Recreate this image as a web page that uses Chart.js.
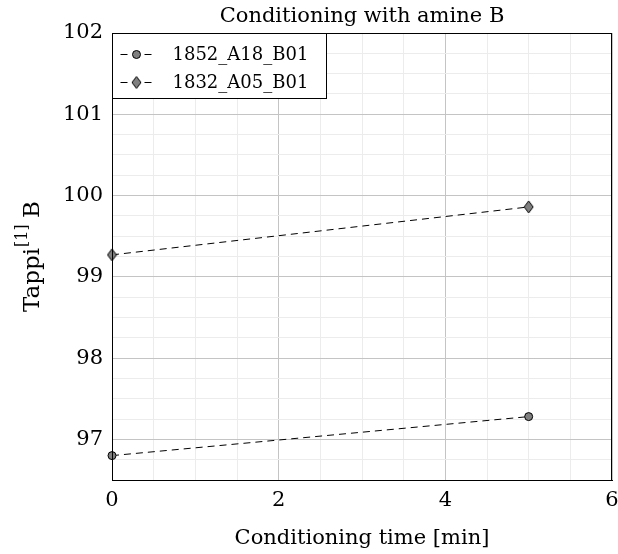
<!DOCTYPE html>
<html><head><meta charset="utf-8">
<script src="https://cdn.jsdelivr.net/npm/chart.js@4"></script>
<style>html,body{margin:0;padding:0;background:#fff}#c{display:block}</style>
</head><body>
<canvas id="c" width="618" height="554"></canvas>
<script>
const seriesNames = ["1852_A18_B01", "1832_A05_B01"];
const timeMin = [0, 5];
const tappiA18 = [96.80, 97.28];
const tappiA05 = [99.27, 99.86];
const yTickLabels = [97, 98, 99, 100, 101, 102];
const xTickLabels = [0, 2, 4, 6];
const titleText = "Conditioning with amine B";
const xTitle = "Conditioning time [min]";

const FONT = "'DejaVu Serif', serif";
const FS = 21;

const mk = (xs, ys) => xs.map((x, i) => ({x, y: ys[i]}));

// tall diamond marker
function diamond(w, h) {
  const c = document.createElement('canvas');
  c.width = w + 2; c.height = h + 2;
  const g = c.getContext('2d');
  g.beginPath();
  g.moveTo(c.width / 2, 1); g.lineTo(c.width - 1, c.height / 2);
  g.lineTo(c.width / 2, c.height - 1); g.lineTo(1, c.height / 2); g.closePath();
  g.fillStyle = '#808080'; g.fill();
  g.strokeStyle = '#000'; g.lineWidth = 1; g.stroke();
  return c;
}
const diamondImg = diamond(9, 12);

const boxPlugin = {
  id: 'boxPlugin',
  afterDraw(chart) {
    const {ctx, chartArea: a} = chart;
    ctx.save();
    ctx.strokeStyle = '#000'; ctx.lineWidth = 1;
    ctx.strokeRect(Math.round(a.left) + 0.5, Math.round(a.top) + 0.5, Math.round(a.right - a.left) - 1, Math.round(a.bottom - a.top));
    ctx.fillStyle = '#000';
    ctx.font = `21px ${FONT}`;
    ctx.textAlign = 'center'; ctx.textBaseline = 'alphabetic';
    ctx.fillText(titleText, (a.left + a.right) / 2, 22);
    // y-axis title
    ctx.translate(31, (a.top + a.bottom) / 2);
    ctx.rotate(-Math.PI / 2);
    const p1 = "Tappi", p2 = "[1]", p3 = " B";
    const F1 = 23, F2 = 16;
    ctx.font = `${F1}px ${FONT}`; const w1 = ctx.measureText(p1).width, w3 = ctx.measureText(p3).width;
    ctx.font = `${F2}px ${FONT}`; const w2 = ctx.measureText(p2).width;
    let x0 = -(w1 + w2 + w3) / 2;
    ctx.textAlign = 'left';
    ctx.font = `${F1}px ${FONT}`; ctx.fillText(p1, x0, 8);
    ctx.font = `${F2}px ${FONT}`; ctx.fillText(p2, x0 + w1 + 1, -4);
    ctx.font = `${F1}px ${FONT}`; ctx.fillText(p3, x0 + w1 + w2, 8);
    ctx.restore();
    // legend inside plot, top-left
    ctx.save();
    const lx = Math.round(a.left) + 0.5, ly = Math.round(a.top) + 0.5;
    const lw = 214, lh = 65;
    ctx.fillStyle = '#fff';
    ctx.fillRect(lx, ly, lw, lh);
    ctx.strokeStyle = '#000'; ctx.lineWidth = 1;
    ctx.strokeRect(lx, ly, lw, lh);
    chart.data.datasets.forEach((ds, i) => {
      const cy = Math.round(ly + 20 + i * 28) + 0.5;
      ctx.setLineDash([7, 5]); ctx.lineDashOffset = 0;
      ctx.strokeStyle = '#000'; ctx.lineWidth = 1;
      ctx.beginPath(); ctx.moveTo(lx + 8, cy); ctx.lineTo(lx + 40, cy); ctx.stroke();
      ctx.setLineDash([]);
      ctx.fillStyle = '#fff';
      ctx.fillRect(lx + 18, cy - 7, 12, 14);
      ctx.fillStyle = '#808080';
      ctx.strokeStyle = '#000';
      Chart.helpers.drawPoint(ctx, {pointStyle: ds.pointStyle, radius: ds.pointRadius, borderWidth: 1}, lx + 24, cy);
      ctx.fillStyle = '#000';
      ctx.font = `18px ${FONT}`;
      ctx.textAlign = 'left'; ctx.textBaseline = 'middle';
      ctx.fillText(ds.label, lx + 60, cy + 1);
    });
    ctx.restore();
  }
};

new Chart(document.getElementById('c'), {
  type: 'scatter',
  data: {
    datasets: [
      {label: seriesNames[0], data: mk(timeMin, tappiA18), showLine: true, clip: false, borderColor: '#000', borderWidth: 1, borderDash: [7, 5],
       pointStyle: 'circle', pointRadius: 4, pointBackgroundColor: '#808080', pointBorderColor: '#000', pointBorderWidth: 1},
      {label: seriesNames[1], data: mk(timeMin, tappiA05), showLine: true, clip: false, borderColor: '#000', borderWidth: 1, borderDash: [7, 5],
       pointStyle: diamondImg, pointRadius: 6, pointBackgroundColor: '#808080', pointBorderColor: '#000', pointBorderWidth: 1}
    ]
  },
  options: {
    responsive: false, animation: false,
    layout: {autoPadding: false, padding: {left: 0, right: 6, top: 33, bottom: 3}},
    plugins: {legend: {display: false}, title: {display: false}, tooltip: {enabled: false}},
    scales: {
      x: {
        type: 'linear', min: 0, max: 6,
        ticks: {stepSize: 0.5, autoSkip: false, maxRotation: 0, padding: 8, color: '#000', font: {family: FONT, size: FS},
          callback: v => xTickLabels.includes(v) ? String(v) : ''},
        grid: {drawTicks: false, color: c => (c.tick && xTickLabels.includes(c.tick.value)) ? '#c4c4c4' : '#ececec'},
        border: {color: '#000'},
        title: {display: true, text: xTitle, color: '#000', font: {family: FONT, size: FS}, padding: {top: 2, bottom: 0}},
        afterFit: s => { s.height = 71; s.paddingRight = 0; s.paddingLeft = 0; }
      },
      y: {
        type: 'linear', min: 96.5, max: 102,
        ticks: {stepSize: 0.25, autoSkip: false, padding: 9, color: '#000', font: {family: FONT, size: FS},
          callback: v => yTickLabels.includes(v) ? String(v) : ''},
        grid: {drawTicks: false, color: c => (c.tick && yTickLabels.includes(c.tick.value)) ? '#c4c4c4' : '#ececec'},
        border: {color: '#000'},
        afterFit: s => { s.width = 112; s.paddingTop = 0; s.paddingBottom = 0; }
      }
    }
  },
  plugins: [boxPlugin]
});
</script>
</body></html>
